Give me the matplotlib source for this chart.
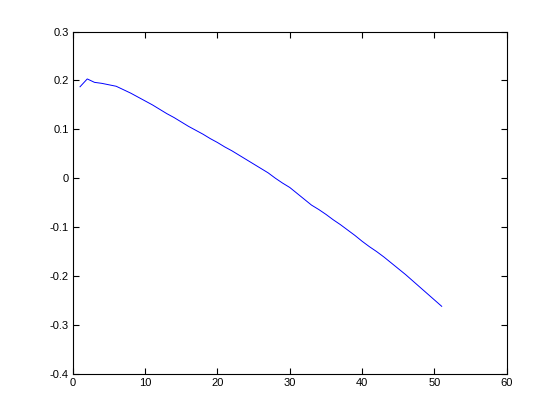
import matplotlib
matplotlib.use("Agg")
import matplotlib.pyplot as plt

x = list(range(1, 52))
y = [0.187, 0.203, 0.196, 0.194, 0.191, 0.188, 0.181, 0.174, 0.166, 0.158,
     0.150, 0.141, 0.132, 0.124, 0.115, 0.106, 0.098, 0.090, 0.081, 0.073,
     0.064, 0.056, 0.047, 0.038, 0.029, 0.020, 0.011, 0.000, -0.010, -0.019,
     -0.031, -0.043, -0.055, -0.064, -0.074, -0.085, -0.095, -0.106, -0.117, -0.129,
     -0.140, -0.150, -0.161, -0.173, -0.185, -0.197, -0.210, -0.223, -0.236, -0.249,
     -0.262]

xticks = [0, 10, 20, 30, 40, 50, 60]
yticks = [-0.4, -0.3, -0.2, -0.1, 0, 0.1, 0.2, 0.3]
ytick_labels = ["-0.4", "-0.3", "-0.2", "-0.1", "0", "0.1", "0.2", "0.3"]

plt.rcParams['font.family'] = ['Liberation Sans', 'DejaVu Sans']

fig = plt.figure(figsize=(5.6, 4.2), dpi=100, facecolor='white')
ax = fig.add_axes([0.13, 0.11, 0.775, 0.815])
ax.plot(x, y, color='blue', linewidth=0.7)

ax.set_xlim(0, 60)
ax.set_ylim(-0.4, 0.3)
ax.set_xticks(xticks)
ax.set_xticklabels([str(t) for t in xticks])
ax.set_yticks(yticks)
ax.set_yticklabels(ytick_labels)
ax.tick_params(direction='in', top=True, right=True, length=4, width=0.8,
               labelsize=8, pad=3)
for s in ax.spines.values():
    s.set_linewidth(0.8)

fig.savefig("out.png", dpi=100, facecolor='white')
